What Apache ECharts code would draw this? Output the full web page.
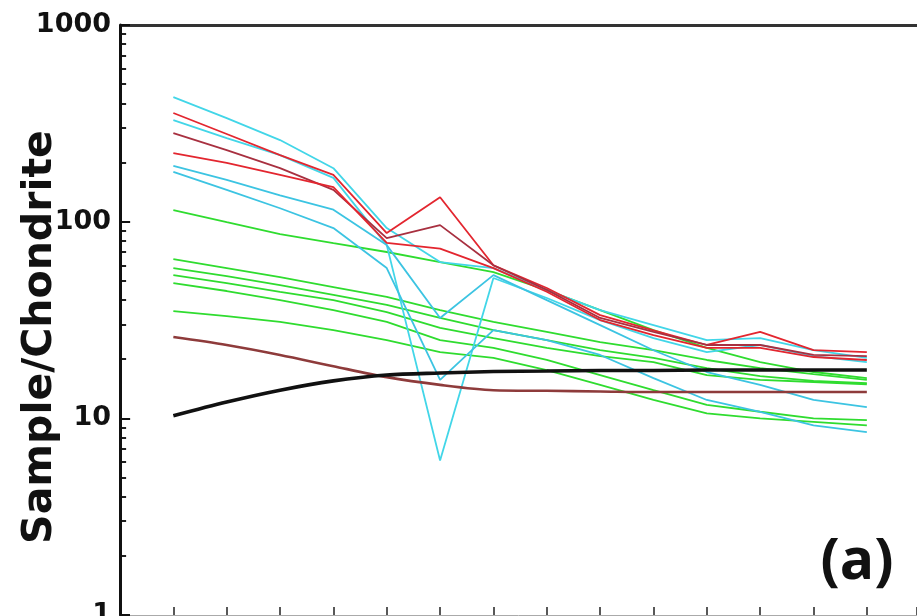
<!DOCTYPE html>
<html><head><meta charset="utf-8">
<script src="https://cdn.jsdelivr.net/npm/echarts@6/dist/echarts.min.js"></script>
<style>html,body{margin:0;padding:0;background:#fff}#c{width:917px;height:616px}</style>
</head><body><div id="c"></div>
<script>
// REE categories (positions 1..14 on the x axis, labels not shown in the cropped figure)
const elements = ['La','Ce','Pr','Nd','Sm','Eu','Gd','Tb','Dy','Ho','Er','Tm','Yb','Lu'];

// red samples
const red1 = [357, 279, 218, 173, 87.5, 133, 60, 46, 33.5, 28, 23.6, 27.5, 22.2, 21.7];
const red2 = [282, 231, 187, 145, 82.5, 96, 60, 45, 32.4, 27.5, 23.6, 23.6, 21, 20.7];
const red3 = [223, 199, 173, 150, 78, 73, 58, 44, 31.6, 26.5, 22.8, 22.8, 20.5, 19.8];

// cyan samples
const cyan1 = [430, 336, 260, 187, 92.8, 62.3, 58.1, 44.9, 35.5, 29.8, 25.0, 25.6, 22.2, 20.3];
const cyan2 = [328, 266, 218, 167, 76.0, 6.1, 51.7, 40.9, 31.6, 25.6, 21.7, 23.6, 20.7, 19.3];
const cyan3 = [192, 163, 136, 115, 76.0, 32.4, 53.5, 39.9, 29.8, 22.2, 17.2, 14.8, 12.4, 11.4];
const cyan4 = [179, 145, 117, 92.8, 58.1, 15.7, 28.1, 25.0, 21.0, 16.0, 12.4, 10.8, 9.2, 8.5];

// green samples
const green1 = [114.6, 99.5, 86.5, 77.8, 70.1, 62.3, 55.4, 44.9, 35.5, 28.1, 22.8, 19.3, 17.2, 16.0];
const green2 = [64.5, 58.1, 52.3, 46.5, 41.4, 35.5, 30.9, 27.5, 24.4, 22.2, 19.8, 18.0, 16.8, 15.7];
const green3 = [58.1, 52.9, 47.6, 42.4, 37.7, 32.4, 28.1, 25.0, 22.2, 20.3, 18.0, 16.4, 15.5, 15.1];
const green4 = [53.5, 48.7, 43.9, 39.9, 34.7, 28.8, 25.6, 22.8, 20.7, 19.3, 16.6, 15.7, 15.3, 14.9];
const green5 = [48.7, 44.4, 39.9, 35.5, 30.9, 25.0, 22.8, 19.8, 16.6, 13.9, 11.7, 10.8, 10.0, 9.8];
const green6 = [35.1, 33.1, 30.9, 28.1, 25.0, 21.7, 20.3, 17.6, 14.8, 12.4, 10.6, 10.0, 9.6, 9.2];

// reference curves
const brownRef = [25.9, 23.6, 21.0, 18.4, 16.2, 14.8, 13.9, 13.8, 13.7, 13.6, 13.6, 13.6, 13.6, 13.6];
const blackRef = [10.3, 12.1, 13.9, 15.5, 16.6, 17.0, 17.3, 17.4, 17.5, 17.5, 17.6, 17.6, 17.6, 17.6];

// axis ticks
const yMajorTicks = [1, 10, 100, 1000];
const yMinorTicks = [2,3,4,5,6,7,8,9,20,30,40,50,60,70,80,90,200,300,400,500,600,700,800,900];
const yTitle = 'Sample/Chondrite';
const panelLabel = '(a)';

function pts(arr){ return arr.map((v,i)=>[i+1, v]); }

const series = [];
function add(arr, color, width, extra){
  series.push(Object.assign({
    type:'line', data:pts(arr), symbol:'none',
    lineStyle:{color:color, width:width},
    emphasis:{disabled:true}, animation:false, z:2
  }, extra || {}));
}
const G = '#2fdc2f', C = '#42d6e8', C2c = '#3cc4e2', R = '#e3262f';
add(green1, G, 1.8); add(green2, G, 1.8); add(green3, G, 1.8);
add(green4, G, 1.8); add(green5, G, 1.8); add(green6, G, 1.8);
add(cyan1, C, 1.8); add(cyan2, C, 1.8); add(cyan3, C2c, 1.8); add(cyan4, C2c, 1.8);
add(red1, R, 1.8); add(red2, '#a83040', 1.8); add(red3, R, 1.8);
add(brownRef, '#8e3b3b', 2.6, {smooth:0.3, z:3});

// tick marks on the log axis drawn as short mark lines through the axis scales
const xMin = 0, xMax = 14.94;
const tickMarks = [];
yMajorTicks.slice(1, -1).forEach(v => tickMarks.push([{coord:[xMin, v], lineStyle:{width:2}}, {coord:[xMin + 0.19, v]}]));
yMinorTicks.forEach(v => tickMarks.push([{coord:[xMin, v], lineStyle:{width:1.5}}, {coord:[xMin + 0.115, v]}]));
add(blackRef, '#111111', 3.6, {smooth:0.3, z:4,
  markLine:{silent:true, symbol:'none', label:{show:false}, animation:false, precision:6,
    lineStyle:{color:'#333', width:3, type:'solid'},
    data:[{yAxis: yMajorTicks[yMajorTicks.length-1]}]}});
series.push({type:'line', data:[], symbol:'none', silent:true, z:8, animation:false,
  markLine:{silent:true, symbol:'none', label:{show:false}, animation:false, precision:6,
    lineStyle:{color:'#111', width:1.5, type:'solid'}, data:tickMarks}});

const chart = echarts.init(document.getElementById('c'));
chart.setOption({
  animation:false,
  backgroundColor:'#fff',
  grid:{left:120, right:0, top:25, bottom:1, containLabel:false, outerBoundsMode:'none'},
  xAxis:{type:'value', min:xMin, max:xMax, interval:1,
     axisLine:{show:true, onZero:false, lineStyle:{color:'#aaa', width:1}},
     axisTick:{show:true, inside:true, length:8, lineStyle:{color:'#222', width:1.5}},
     axisLabel:{show:false}, splitLine:{show:false}},
  yAxis:{type:'log', logBase:10, min:yMajorTicks[0], max:yMajorTicks[yMajorTicks.length-1], z:10,
    axisLine:{show:true, lineStyle:{color:'#111', width:3}},
    axisTick:{show:true, inside:true, length:10, lineStyle:{color:'#111', width:2}},
    minorTick:{show:true, splitNumber:9, length:6, lineStyle:{color:'#111', width:1.5}},
    axisLabel:{fontFamily:'DejaVu Sans', fontWeight:'bold', fontSize:27, color:'#111', margin:9,
      formatter:function(v){ return String(Math.round(v)); }},
    splitLine:{show:false}},
  graphic:[
    {type:'text', x:40, y:337, rotation:Math.PI/2, z:10,
     style:{text:yTitle, font:'bold 41px "DejaVu Sans"', fill:'#111', align:'center', verticalAlign:'middle'}},
    {type:'text', x:857, y:563, z:10,
     style:{text:panelLabel, font:'bold 57px "Open Sans"', fill:'#111', align:'center', verticalAlign:'middle'}}
  ],
  series:series
});
</script></body></html>
